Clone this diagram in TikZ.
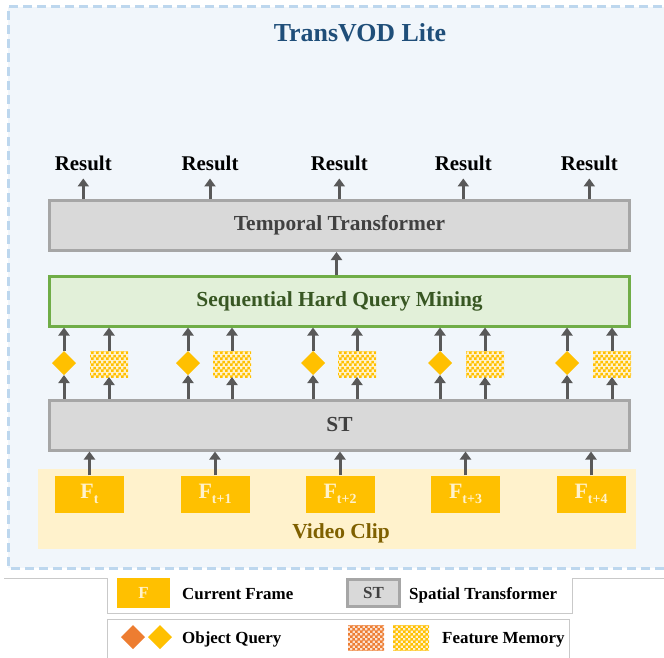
\documentclass[tikz,border=0pt]{standalone}
\usepackage{fontspec}
\setmainfont{Liberation Serif}
\usetikzlibrary{arrows.meta,shapes.geometric,patterns}

\definecolor{bgblue}{HTML}{F1F6FB}
\definecolor{dashblue}{HTML}{BDD7EE}
\definecolor{titleblue}{HTML}{1F4E79}
\definecolor{boxgray}{HTML}{D9D9D9}
\definecolor{linegray}{HTML}{A6A6A6}
\definecolor{txtgray}{HTML}{404040}
\definecolor{arrgray}{HTML}{595959}
\definecolor{mingreen}{HTML}{E2F0D9}
\definecolor{edgegreen}{HTML}{70AD47}
\definecolor{txtgreen}{HTML}{385723}
\definecolor{gold}{HTML}{FFC000}
\definecolor{cream}{HTML}{FFF2CC}
\definecolor{clipbrown}{HTML}{7F6000}
\definecolor{qorange}{HTML}{ED7D31}
\definecolor{lightorange}{HTML}{FBE0CF}
\definecolor{legline}{HTML}{C9C9C9}

% 细棋盘格
\pgfdeclarepatternformonly{finecheck}{\pgfpointorigin}{\pgfqpoint{5.4bp}{5.4bp}}%
  {\pgfqpoint{5.4bp}{5.4bp}}{%
  \pgfpathrectangle{\pgfpointorigin}{\pgfqpoint{2.75bp}{2.75bp}}%
  \pgfpathrectangle{\pgfqpoint{2.7bp}{2.7bp}}{\pgfqpoint{2.75bp}{2.75bp}}%
  \pgfusepath{fill}}

\newcommand{\frm}[1]{F\raisebox{-5bp}{\fontsize{14}{14}\selectfont #1}}

\begin{document}
\begin{tikzpicture}[x=1bp, y=-1bp,
  arr/.style={-{Triangle[width=11bp,length=8bp]}, line width=3bp, draw=arrgray},
  bigbox/.style={line width=3bp, minimum width=580bp, minimum height=50bp,
    font=\fontsize{21.5}{24}\selectfont\bfseries},
  graybox/.style={bigbox, draw=linegray, fill=boxgray, text=txtgray},
  greenbox/.style={bigbox, draw=edgegreen, fill=mingreen, text=txtgreen},
  clipframe/.style={fill=gold, text=cream, minimum width=69bp, minimum height=37bp,
    inner sep=0pt, font=\fontsize{22}{24}\selectfont\bfseries},
  query/.style={diamond, fill=#1, minimum width=24bp, minimum height=24bp,
    inner sep=0pt, outer sep=0pt},
  query/.default=gold,
  memo/.style 2 args={preaction={fill=#1}, pattern=finecheck, pattern color=#2,
    minimum width=38bp, minimum height=26bp, inner sep=0pt, outer sep=0pt},
  res/.style={anchor=base, inner ysep=8bp, font=\fontsize{21}{24}\selectfont\bfseries},
  legtxt/.style={anchor=base west, inner sep=0pt, font=\fontsize{17}{20}\selectfont\bfseries},
]
  \useasboundingbox (0,0) rectangle (664,658);
  \clip (0,0) rectangle (664,658);

  % 外框与标题
  \fill[bgblue] (8,7) rectangle (690,568);
  \draw[dashblue, line width=3bp, dash pattern=on 9bp off 5bp]
    (690,7) -- (8,7) -- (8,568) -- (690,568);
  \node[anchor=base, text=titleblue, font=\fontsize{26}{30}\selectfont\bfseries]
    (title) at (360,42) {TransVOD Lite};

  % 三个横向模块
  \node[graybox]  (tt)   at (339.5,225.5) {Temporal Transformer};
  \node[greenbox] (shqm) at (339.5,301)   {Sequential Hard Query Mining};
  \node[graybox]  (st)   at (339.5,425)   {ST};

  % 视频片段
  \fill[cream] (38,469) rectangle (636,549);
  \node[anchor=base, text=clipbrown, font=\fontsize{21.5}{24}\selectfont\bfseries]
    (cliplabel) at (341,538) {Video Clip};
  \foreach \i/\x/\s in {1/89.5/t, 2/215/t+1, 3/340/t+2, 4/465.5/t+3, 5/591/t+4} {
    \node[clipframe] (f\i) at (\x,494) {\frm{\s}};
    \draw[arr] (f\i.north) -- (f\i.north |- st.south);
  }

  % query 与 memory
  \foreach \i/\x/\mx in {1/64/109, 2/188/232, 3/313/357, 4/440/485, 5/567/612} {
    \node[query] (q\i) at (\x,363) {};
    \node[memo={cream}{gold}] (m\i) at (\mx,364) {};
    \draw[arr] (st.north -| q\i) -- (q\i.south);
    \draw[arr] (q\i.north) -- (q\i.north |- shqm.south);
    \draw[arr] (st.north -| m\i) -- (m\i.south);
    \draw[arr] (m\i.north) -- (m\i.north |- shqm.south);
  }
  \draw[arr] ([xshift=-3bp]shqm.north) -- ([xshift=-3bp]shqm.north |- tt.south);

  % 输出
  \foreach \i/\x in {1/83.3, 2/210, 3/339.3, 4/463.3, 5/589.3} {
    \node[res] (r\i) at (\x,170) {Result};
    \draw[arr] (r\i.south |- tt.north) -- (r\i.south);
  }

  % 图例
  \draw[legline] (4,578) -- (107,578) -- (107,613) -- (572,613) -- (572,578) -- (664,578);
  \draw[legline] (107,664) -- (107,619) -- (569,619) -- (569,664);
  \node[clipframe, minimum width=53bp, minimum height=30bp,
    font=\fontsize{17}{20}\selectfont\bfseries] (lf) at (143.5,593) {F};
  \node[legtxt] (lft) at (182,599) {Current Frame};
  \node[graybox, minimum width=52bp, minimum height=27bp,
    font=\fontsize{17}{20}\selectfont\bfseries] (lst) at (373.5,593) {ST};
  \node[legtxt] (lstt) at (409,599) {Spatial Transformer};
  \node[query=qorange] (lq1) at (133,637) {};
  \node[query] (lq2) at (160,637) {};
  \node[legtxt] (lqt) at (182,643) {Object Query};
  \node[memo={lightorange}{qorange}, minimum width=36bp, minimum height=25bp]
    (lm1) at (366,637.5) {};
  \node[memo={cream}{gold}, minimum width=36bp, minimum height=25bp]
    (lm2) at (411,637.5) {};
  \node[legtxt] (lmt) at (442,643) {Feature Memory};
\end{tikzpicture}
\end{document}
